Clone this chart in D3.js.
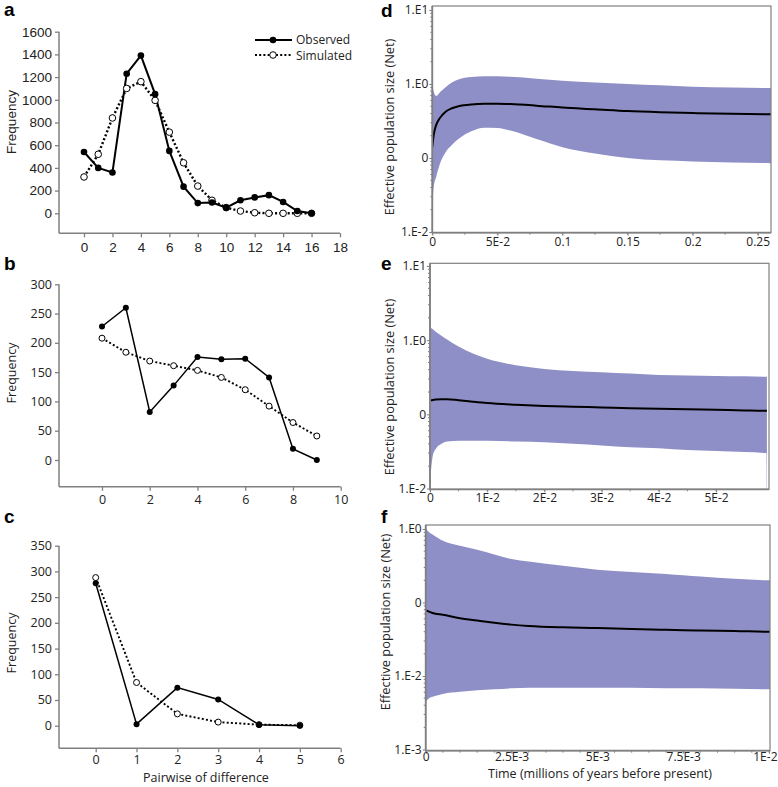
<!DOCTYPE html>
<html><head><meta charset="utf-8">
<script src="https://cdn.jsdelivr.net/npm/d3@7"></script>
<style>body{margin:0;background:#fff}svg{display:block}</style>
</head><body>
<svg id="chart" width="778" height="787"></svg>
<script>
// ---------- Data: mismatch distributions ----------
const aX = [0,1,2,3,4,5,6,7,8,9,10,11,12,13,14,15,16];
const aObserved = [540,400,360,1230,1390,1050,550,235,90,95,50,115,140,160,100,20,0];
const aSimulated = [320,520,840,1100,1160,995,715,445,240,115,50,20,5,0,0,0,0];
const aXTicks = [0,2,4,6,8,10,12,14,16,18];
const aYTicks = [0,200,400,600,800,1000,1200,1400,1600];

const bX = [0,1,2,3,4,5,6,7,8,9];
const bObserved = [228,260,82,127,176,172,173,141,19,0];
const bSimulated = [208,184,169,161,153,141,120,92,64,41];
const bXTicks = [0,2,4,6,8,10];
const bYTicks = [0,50,100,150,200,250,300];

const cX = [0,1,2,3,4,5];
const cObserved = [277,3,74,51,2,0];
const cSimulated = [288,84,23,7,2,1];
const cXTicks = [0,1,2,3,4,5,6];
const cYTicks = [0,50,100,150,200,250,300,350];

// ---------- Data: Bayesian skyline plots ----------
const dTime = [0,0.001,0.003,0.006,0.01,0.015,0.02,0.03,0.04,0.05,0.06,0.08,0.1,0.125,0.15,0.175,0.2,0.23,0.2605];
const dUpper = [1.05,0.8,0.69,0.78,0.9,1.05,1.15,1.24,1.27,1.27,1.25,1.18,1.11,1.05,1.0,0.96,0.92,0.9,0.88];
const dLower = [0.018,0.04,0.056,0.085,0.118,0.15,0.18,0.23,0.257,0.255,0.235,0.18,0.14,0.115,0.1,0.093,0.09,0.087,0.085];
const dMedian = [0.14,0.2,0.28,0.35,0.42,0.47,0.5,0.53,0.54,0.54,0.535,0.51,0.48,0.455,0.43,0.415,0.405,0.395,0.39];
const dXTicks = [0,0.05,0.1,0.15,0.2,0.25];
const dXLabels = ["0","5E-2","0.1","0.15","0.2","0.25"];
const dYTicks = [0.01,0.1,1,10];
const dYLabels = ["1.E-2","0","1.E0","1.E1"];

const eTime = [0,0.0005,0.001,0.002,0.003,0.005,0.0075,0.01,0.015,0.02,0.025,0.03,0.035,0.04,0.045,0.05,0.055,0.0588,0.0589];
const eUpper = [1.49,1.4,1.3,1.15,1.02,0.82,0.66,0.56,0.46,0.41,0.385,0.37,0.355,0.34,0.335,0.33,0.325,0.32,0.32];
const eLower = [0.012,0.028,0.034,0.04,0.043,0.044,0.044,0.044,0.043,0.042,0.04,0.038,0.036,0.035,0.033,0.032,0.031,0.03,0.005];
const eMedian = [0.153,0.156,0.158,0.16,0.16,0.155,0.148,0.142,0.135,0.13,0.127,0.124,0.121,0.119,0.117,0.115,0.113,0.112,0.112];
const eXTicks = [0,0.01,0.02,0.03,0.04,0.05];
const eXLabels = ["0","1E-2","2E-2","3E-2","4E-2","5E-2"];
const eYTicks = [0.01,0.1,1,10];
const eYLabels = ["1.E-2","0","1.E0","1.E1"];

const fTime = [0,0.0001,0.0002,0.0005,0.001,0.0015,0.002,0.0025,0.003,0.004,0.005,0.006,0.007,0.0075,0.008,0.009,0.01,0.01003];
const fUpper = [1.02,0.9,0.84,0.69,0.59,0.52,0.45,0.39,0.36,0.315,0.28,0.26,0.245,0.235,0.225,0.21,0.2,0.2];
const fLower = [0.0045,0.005,0.0052,0.0057,0.0061,0.0064,0.0066,0.0068,0.0069,0.0069,0.0069,0.0069,0.0068,0.0068,0.0068,0.0067,0.0066,0.0066];
const fMedian = [0.079,0.075,0.072,0.068,0.061,0.057,0.053,0.05,0.048,0.046,0.045,0.0435,0.0425,0.042,0.0415,0.041,0.04,0.04];
const fXTicks = [0,0.0025,0.005,0.0075,0.01];
const fXLabels = ["0","2.5E-3","5E-3","7.5E-3","1E-2"];
const fYTicks = [0.001,0.01,0.1,1];
const fYLabels = ["1.E-3","1.E-2","0","1.E0"];

// ---------- Drawing ----------
const svg = d3.select("#chart");
const AXIS = "#808080";
const FILL = "#8f8fc7";
const ARIAL = "'Liberation Sans', Arial, sans-serif";
const SEGOE = "'Open Sans', 'Noto Sans', sans-serif";

function panelLetter(t, x, y) {
  svg.append("text").attr("x", x).attr("y", y).text(t)
    .attr("font-family", ARIAL).attr("font-weight", "bold").attr("font-size", 19).attr("fill", "#000");
}

function leftPanel(o) {
  const g = svg.append("g");
  const x = d3.scaleLinear().domain([0, o.xTicks[o.xTicks.length-1]]).range([o.x0, o.x1]);
  const y = d3.scaleLinear().domain([0, o.yTicks[o.yTicks.length-1]]).range([o.y0, o.y1]);
  const fmt = d3.format("d");
  const xa = g.append("g").attr("transform", `translate(0,${o.axisY})`)
    .call(d3.axisBottom(x).tickValues(o.xTicks).tickFormat(fmt).tickSize(4).tickSizeOuter(0).tickPadding(o.xPad));
  xa.select(".domain").remove();
  xa.selectAll("line").attr("stroke", AXIS).attr("stroke-width", 1.3);
  xa.selectAll("text").attr("font-family", o.font).attr("font-size", o.fs).attr("fill", "#222");
  g.append("line").attr("x1", o.axisX).attr("x2", x.range()[1]).attr("y1", o.axisY).attr("y2", o.axisY)
    .attr("stroke", AXIS).attr("stroke-width", 1.5);
  const ya = g.append("g").attr("transform", `translate(${o.axisX},0)`)
    .call(d3.axisLeft(y).tickValues(o.yTicks).tickFormat(fmt).tickSize(4).tickSizeOuter(0).tickPadding(3));
  ya.select(".domain").remove();
  ya.selectAll("line").attr("stroke", AXIS).attr("stroke-width", 1.3);
  ya.selectAll("text").attr("font-family", o.font).attr("font-size", o.fs).attr("fill", "#222");
  g.append("line").attr("x1", o.axisX).attr("x2", o.axisX).attr("y1", o.axisY).attr("y2", y.range()[1])
    .attr("stroke", AXIS).attr("stroke-width", 1.5);
  g.append("text").attr("transform", `translate(${o.ylabX},${o.ylabY}) rotate(-90)`)
    .attr("text-anchor", "middle").attr("font-family", o.font).attr("font-size", o.labFs).attr("fill", "#222")
    .text("Frequency");
  if (o.xlab) {
    g.append("text").attr("x", o.xlab[0]).attr("y", o.xlab[1]).attr("text-anchor", "middle")
      .attr("font-family", o.font).attr("font-size", o.labFs).attr("fill", "#222").text(o.xlab[2]);
  }
  const line = d3.line().x((d, i) => x(o.xs[i])).y(d => y(d));
  g.append("path").attr("d", line(o.sim)).attr("fill", "none").attr("stroke", "#000")
    .attr("stroke-width", o.lw + 0.4).attr("stroke-dasharray", "2,2.2");
  g.append("path").attr("d", line(o.obs)).attr("fill", "none").attr("stroke", "#000").attr("stroke-width", o.lw);
  g.selectAll(".so").data(o.sim).join("circle").attr("cx", (d, i) => x(o.xs[i])).attr("cy", d => y(d))
    .attr("r", o.r).attr("fill", "#fff").attr("stroke", "#000").attr("stroke-width", 1);
  g.selectAll(".ob").data(o.obs).join("circle").attr("cx", (d, i) => x(o.xs[i])).attr("cy", d => y(d))
    .attr("r", o.r).attr("fill", "#000");
}

leftPanel({xs: aX, obs: aObserved, sim: aSimulated, xTicks: aXTicks, yTicks: aYTicks,
  x0: 84, x1: 340, y0: 213.3, y1: 31.7, axisX: 59, axisY: 233.3, font: ARIAL, fs: 13.5, labFs: 13.5,
  ylabX: 16, ylabY: 122, lw: 2, r: 3.3, xPad: 5});
leftPanel({xs: bX, obs: bObserved, sim: bSimulated, xTicks: bXTicks, yTicks: bYTicks,
  x0: 102, x1: 340.7, y0: 460, y1: 284.3, axisX: 59, axisY: 486.7, font: SEGOE, fs: 12.5, labFs: 12.5,
  ylabX: 16, ylabY: 373, lw: 1.5, r: 3, xPad: 4});
leftPanel({xs: cX, obs: cObserved, sim: cSimulated, xTicks: cXTicks, yTicks: cYTicks,
  x0: 95.7, x1: 340.7, y0: 725.7, y1: 545.7, axisX: 59, axisY: 748.3, font: SEGOE, fs: 12.5, labFs: 12.5,
  ylabX: 16, ylabY: 643, lw: 1.5, r: 3, xPad: 3, xlab: [206, 782, "Pairwise of difference"]});

// legend (panel a)
const lg = svg.append("g");
lg.append("line").attr("x1", 255).attr("x2", 292).attr("y1", 40).attr("y2", 40).attr("stroke", "#000").attr("stroke-width", 2);
lg.append("circle").attr("cx", 273).attr("cy", 40).attr("r", 3.3).attr("fill", "#000");
lg.append("line").attr("x1", 255).attr("x2", 292).attr("y1", 55).attr("y2", 55).attr("stroke", "#000").attr("stroke-width", 2).attr("stroke-dasharray", "2,2.2");
lg.append("circle").attr("cx", 273).attr("cy", 55).attr("r", 3.3).attr("fill", "#fff").attr("stroke", "#000");
lg.append("text").attr("x", 296).attr("y", 44).text("Observed").attr("font-family", SEGOE).attr("font-size", 12).attr("fill", "#222");
lg.append("text").attr("x", 296).attr("y", 59.5).text("Simulated").attr("font-family", SEGOE).attr("font-size", 12).attr("fill", "#222");

panelLetter("a", 4, 16);
panelLetter("b", 4, 270);
panelLetter("c", 4, 523);

let clipId = 0;
function rightPanel(o) {
  const g = svg.append("g");
  const x = d3.scaleLinear().domain([0, o.xTicks[o.xTicks.length-1]]).range([o.x0, o.xTickEnd]);
  const y = d3.scaleLog().domain([o.yTicks[0], o.yTicks[o.yTicks.length-1]]).range([o.yBot, o.yTop]);
  const id = "clip" + (clipId++);
  svg.append("clipPath").attr("id", id).append("rect")
    .attr("x", o.x0).attr("y", o.boxTop).attr("width", o.boxRight - o.x0).attr("height", o.boxBot - o.boxTop);
  const area = d3.area().curve(d3.curveMonotoneX).x((d, i) => x(o.t[i])).y0((d, i) => y(o.lower[i])).y1(d => y(d));
  g.append("path").attr("clip-path", `url(#${id})`).attr("d", area(o.upper)).attr("fill", FILL);
  const line = d3.line().curve(d3.curveMonotoneX).x((d, i) => x(o.t[i])).y(d => y(d));
  g.append("path").attr("clip-path", `url(#${id})`).attr("d", line(o.median)).attr("fill", "none")
    .attr("stroke", "#000").attr("stroke-width", 2);
  g.append("rect").attr("x", o.x0).attr("y", o.boxTop).attr("width", o.boxRight - o.x0).attr("height", o.boxBot - o.boxTop)
    .attr("fill", "none").attr("stroke", AXIS).attr("stroke-width", 1.2);
  g.append("line").attr("x1", o.x0).attr("x2", o.boxRight).attr("y1", o.boxBot).attr("y2", o.boxBot).attr("stroke", AXIS).attr("stroke-width", 1.8);
  g.append("line").attr("x1", o.x0).attr("x2", o.x0).attr("y1", o.boxTop).attr("y2", o.boxBot).attr("stroke", AXIS).attr("stroke-width", 1.8);
  const xa = g.append("g").attr("transform", `translate(0,${o.boxBot})`)
    .call(d3.axisBottom(x).tickValues(o.xTicks).tickFormat((d, i) => o.xLabels[i]).tickSize(3).tickSizeOuter(0).tickPadding(o.xPad));
  xa.select(".domain").remove();
  xa.selectAll("line").attr("stroke", AXIS);
  xa.selectAll("text").attr("font-family", SEGOE).attr("font-size", 12).attr("fill", "#222");
  if (o.lastEnd) {
    xa.selectAll("text").filter((d, i, n) => i === n.length - 1).attr("text-anchor", "end").attr("x", 777 - x(o.xTicks[o.xTicks.length-1]));
  }
  const minX = d3.range(0, x.domain()[1] * 1.06, o.xMinor).filter(v => x(v) <= o.boxRight);
  g.selectAll(".mx").data(minX).join("line").attr("x1", d => x(d)).attr("x2", d => x(d))
    .attr("y1", o.boxBot).attr("y2", o.boxBot + 2).attr("stroke", AXIS);
  const ya = g.append("g").attr("transform", `translate(${o.x0},0)`)
    .call(d3.axisLeft(y).tickValues(o.yTicks).tickFormat((d, i) => o.yLabels[i]).tickSize(3).tickSizeOuter(0).tickPadding(1));
  ya.select(".domain").remove();
  ya.selectAll("line").attr("stroke", AXIS);
  ya.selectAll("text").attr("font-family", SEGOE).attr("font-size", 12).attr("fill", "#222");
  const minY = [];
  for (let k = 0; k < o.yTicks.length - 1; k++) for (let j = 2; j <= 9; j++) minY.push(o.yTicks[k] * j);
  g.selectAll(".my").data(minY).join("line").attr("x1", o.x0 - 2).attr("x2", o.x0)
    .attr("y1", d => y(d)).attr("y2", d => y(d)).attr("stroke", AXIS);
  g.append("text").attr("transform", `translate(${o.ylabX},${o.ylabY}) rotate(-90)`)
    .attr("text-anchor", "middle").attr("font-family", SEGOE).attr("font-size", 12.8).attr("fill", "#222")
    .text("Effective population size (Net)");
  if (o.xlab) {
    g.append("text").attr("x", o.xlab[0]).attr("y", o.xlab[1]).attr("text-anchor", "middle")
      .attr("font-family", SEGOE).attr("font-size", 12.5).attr("fill", "#222").text(o.xlab[2]);
  }
}

rightPanel({t: dTime, upper: dUpper, lower: dLower, median: dMedian, xTicks: dXTicks, xLabels: dXLabels,
  yTicks: dYTicks, yLabels: dYLabels, x0: 432.3, xTickEnd: 757.7, boxRight: 771, yBot: 232, yTop: 10,
  boxTop: 6, boxBot: 232.7, xMinor: 0.025, ylabX: 394, ylabY: 127, xPad: 2});
rightPanel({t: eTime, upper: eUpper, lower: eLower, median: eMedian, xTicks: eXTicks, xLabels: eXLabels,
  yTicks: eYTicks, yLabels: eYLabels, x0: 430, xTickEnd: 716, boxRight: 769, yBot: 488.5, yTop: 266,
  boxTop: 263.3, boxBot: 489.3, xMinor: 0.005, ylabX: 394, ylabY: 387, xPad: 1});
rightPanel({t: fTime, upper: fUpper, lower: fLower, median: fMedian, xTicks: fXTicks, xLabels: fXLabels,
  yTicks: fYTicks, yLabels: fYLabels, x0: 425.7, xTickEnd: 769, boxRight: 770, yBot: 749.5, yTop: 529,
  boxTop: 525, boxBot: 750.7, xMinor: 0.0005, ylabX: 390, ylabY: 622, xPad: -1, lastEnd: true,
  xlab: [600, 778, "Time (millions of years before present)"]});

panelLetter("d", 381, 17);
panelLetter("e", 381, 270);
panelLetter("f", 381, 523);
</script>
</body></html>
